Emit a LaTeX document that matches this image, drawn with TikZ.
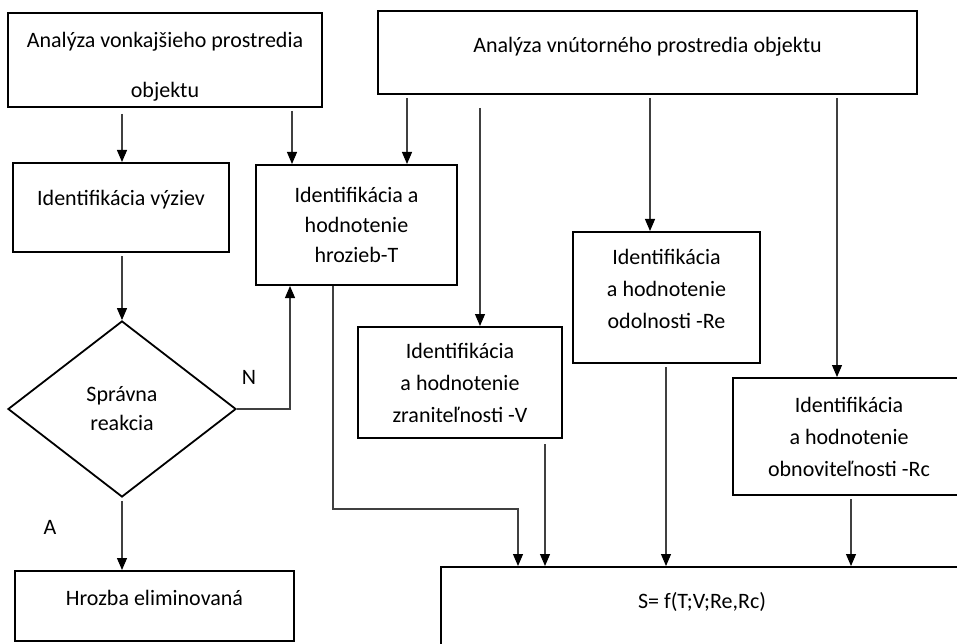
\documentclass[tikz,border=0pt]{standalone}
\usepackage{fontspec}
\setmainfont{Carlito}
\usepackage{tikz}
\usetikzlibrary{shapes.geometric,arrows.meta}

\begin{document}
\begin{tikzpicture}[x=1pt,y=-1pt]
 \tikzstyle{arrow} = [-{Triangle[width=10pt,length=12pt,color=black]},draw=black!75,line width=1.1pt,shorten <=3pt];
 \tikzstyle{box} = [draw=black,line width=2pt,inner sep=0pt,align=center,font=\fontsize{22}{30}\selectfont];
 \tikzstyle{box3} = [box,font=\fontsize{22}{32}\selectfont];
 \tikzstyle{dia} = [diamond,draw=black,line width=1.8pt,inner sep=0pt,align=center,font=\fontsize{22}{29}\selectfont];
 \tikzstyle{lbl} = [font=\fontsize{22}{24}\selectfont];

 \useasboundingbox (0,0) rectangle (957,644);

 \node[box,name=vonk,minimum width=314pt,minimum height=94pt,font=\fontsize{22}{50}\selectfont] at (165,60) {\rule{0pt}{28pt}Analýza vonkajšieho prostredia\\objektu};
 \node[box,name=vnut,minimum width=539pt,minimum height=83pt,text depth=16pt] at (647.5,52.5) {Analýza vnútorného prostredia objektu};
 \node[box,name=vyziev,minimum width=216pt,minimum height=89pt,text depth=19pt] at (121,207.5) {Identifikácia výziev};
 \node[box,name=hrozieb,minimum width=201pt,minimum height=120pt] at (356.5,225) {Identifikácia a\\hodnotenie\\hrozieb-T};
 \node[dia,name=reakcia,minimum width=228pt,minimum height=176pt] at (122,409) {Správna\\reakcia};
 \node[box,name=hrozba,minimum width=279pt,minimum height=70pt,text depth=16pt] at (154.5,606) {Hrozba eliminovaná};
 \node[box3,name=zranit,minimum width=204pt,minimum height=111pt] at (460,382.5) {Identifikácia\\a hodnotenie\\zraniteľnosti -V};
 \node[box3,name=odoln,minimum width=187pt,minimum height=131pt] at (666.5,297.5) {Identifikácia\\a hodnotenie\\odolnosti -Re\rule[-17pt]{0pt}{0pt}};
 \node[box3,name=obnov,minimum width=232pt,minimum height=117pt] at (849,436.5) {Identifikácia\\a hodnotenie\\obnoviteľnosti -Rc};
 \node[box,name=S,anchor=north west,minimum width=522pt,text height=41pt,text depth=60pt] at (440,566) {S= f(T;V;Re,Rc)};

 \node[lbl,name=labN] at (249,377) {N};
 \node[lbl,name=labA] at (50,527) {A};

 % vonkajsie prostredie
 \draw[arrow,shorten <=6pt] (122,0|-vonk.south) -- (122,0|-vyziev.north);
 \draw[arrow] (292,0|-vonk.south) -- (292,0|-hrozieb.north);
 % vnutorne prostredie
 \draw[arrow] (407,0|-vnut.south) -- (407,0|-hrozieb.north);
 \draw[arrow,shorten <=13pt] (480,0|-vnut.south) -- (480,0|-zranit.north);
 \draw[arrow] (650,0|-vnut.south) -- (650,0|-odoln.north);
 \draw[arrow] (837,0|-vnut.south) -- (837,0|-obnov.north);
 % rozhodovanie
 \draw[arrow] (reakcia.north|-vyziev.south) -- (reakcia.north);
 \draw[arrow,shorten <=0pt] (reakcia.east) -| (290,0|-hrozieb.south);
 \draw[arrow] (reakcia.south) -- (reakcia.south|-hrozba.north);
 % vstupy do S
 \draw[arrow,shorten <=0pt] (333,0|-hrozieb.south) -- (333,509) -| (518,0|-S.north);
 \draw[arrow,shorten <=5pt] (545,0|-zranit.south) -- (545,0|-S.north);
 \draw[arrow] (666,0|-odoln.south) -- (666,0|-S.north);
 \draw[arrow] (851,0|-obnov.south) -- (851,0|-S.north);

\end{tikzpicture}
\end{document}
